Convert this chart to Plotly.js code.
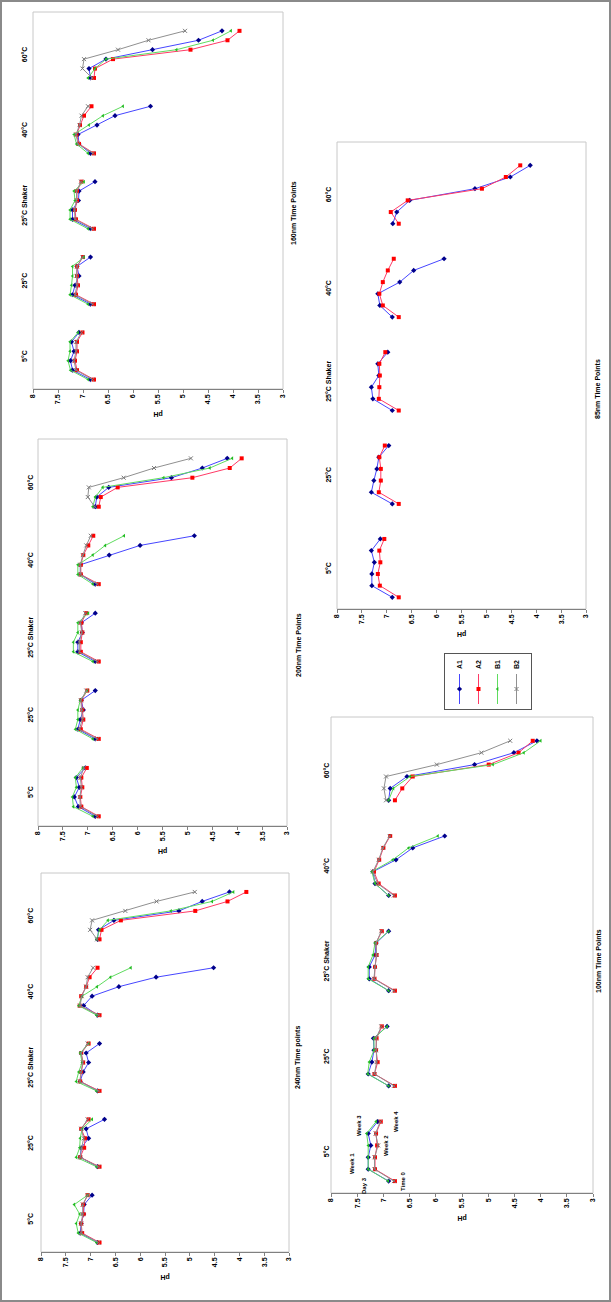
<!DOCTYPE html>
<html>
<head>
<meta charset="utf-8">
<script src="https://cdn.plot.ly/plotly-3.0.1.min.js"></script>
<style>
html,body{margin:0;padding:0;overflow:hidden;background:#fff;width:611px;height:1302px;}
#wrap{position:absolute;left:0;top:0;width:1302px;height:611px;transform-origin:0 0;transform:translate(0,1302px) rotate(-90deg);}
#chart{position:absolute;left:0;top:0;width:1302px;height:611px;}
#frame{position:absolute;left:0;top:0;width:1302px;height:611px;box-sizing:border-box;border:2px solid #8a8a8a;pointer-events:none;}
</style>
</head>
<body>
<div id="wrap"><div id="chart"></div><div id="frame"></div></div>
<script>
const groups = ['5°C', '25°C', '25°C Shaker', '40°C', '60°C'];
const timePoints = ['Time 0', 'Day 3', 'Week 1', 'Week 2', 'Week 3', 'Week 4'];
const pHTicks = [8, 7.5, 7, 6.5, 6, 5.5, 5, 4.5, 4, 3.5, 3];
const seriesNames = ['A1', 'A2', 'B1', 'B2'];

// values: 5 groups x 6 time points, in group order above
const nm240_A1 = [6.86,7.21,7.19,7.14,7.13,6.97, 6.86,7.21,7.19,7.04,7.09,6.72, 6.86,7.21,7.15,7.04,7.09,6.82, 6.86,7.14,6.97,6.43,5.68,4.52, 6.86,6.84,6.53,5.22,4.75,4.20];
const nm240_A2 = [6.82,7.17,7.19,7.14,7.15,7.06, 6.82,7.21,7.13,7.11,7.19,7.04, 6.82,7.21,7.19,7.15,7.19,7.04, 6.82,7.22,7.19,7.09,7.02,6.86, 6.82,6.78,6.39,4.89,4.24,3.86];
const nm240_B1 = [6.88,7.25,7.29,7.22,7.33,7.06, 6.88,7.29,7.22,7.21,7.17,6.97, 6.88,7.29,7.24,7.17,7.21,7.04, 6.88,7.24,7.17,6.87,6.60,6.19, 6.88,6.82,6.65,5.38,4.55,4.12];
const nm240_B2 = [6.84,7.19,7.19,7.16,7.16,7.06, 6.84,7.21,7.18,7.14,7.19,7.06, 6.84,7.22,7.19,7.16,7.19,7.06, 6.84,7.21,7.18,7.09,7.06,6.95, 6.87,7.01,6.97,6.30,5.67,4.90];

const nm200_A1 = [6.85,7.19,7.27,7.17,7.23,7.05, 6.85,7.20,7.15,7.09,7.13,6.85, 6.85,7.20,7.20,7.11,7.13,6.85, 6.85,7.15,7.15,6.57,5.95,4.86, 6.85,6.82,6.58,5.32,4.70,4.20];
const nm200_A2 = [6.78,7.13,7.15,7.11,7.13,7.02, 6.78,7.14,7.09,7.11,7.13,7.01, 6.78,7.14,7.14,7.11,7.13,7.03, 6.78,7.14,7.14,7.09,6.99,6.89, 6.78,6.74,6.40,4.90,4.15,3.91];
const nm200_B1 = [6.90,7.29,7.31,7.23,7.25,7.10, 6.90,7.25,7.20,7.20,7.15,7.01, 6.90,7.29,7.29,7.20,7.20,6.99, 6.90,7.20,7.20,6.90,6.65,6.27, 6.90,6.85,6.70,5.48,4.55,4.10];
const nm200_B2 = [6.81,7.15,7.16,7.13,7.15,7.08, 6.81,7.17,7.11,7.12,7.14,7.03, 6.81,7.17,7.17,7.12,7.15,7.05, 6.81,7.15,7.15,7.10,7.03,6.94, 6.86,7.00,6.98,6.28,5.67,4.93];

const nm160_A1 = [6.85,7.21,7.25,7.18,7.23,7.08, 6.85,7.21,7.16,7.08,7.12,6.85, 6.85,7.21,7.21,7.09,7.08,6.76, 6.85,7.08,7.10,6.72,6.36,5.65, 6.85,6.88,6.54,5.61,4.69,4.22];
const nm160_A2 = [6.78,7.12,7.16,7.12,7.12,7.01, 6.78,7.14,7.10,7.12,7.12,7.00, 6.78,7.14,7.16,7.12,7.12,7.03, 6.78,7.08,7.13,7.06,6.98,6.83, 6.78,6.76,6.40,4.85,4.11,3.87];
const nm160_B1 = [6.90,7.25,7.30,7.26,7.26,7.10, 6.90,7.26,7.23,7.21,7.21,6.98, 6.90,7.26,7.26,7.16,7.18,6.98, 6.90,7.13,7.18,6.88,6.60,6.20, 6.90,6.76,6.54,5.13,4.40,4.04];
const nm160_B2 = [6.81,7.14,7.18,7.14,7.14,7.03, 6.81,7.16,7.12,7.13,7.12,7.01, 6.81,7.16,7.17,7.13,7.13,7.04, 6.80,7.10,7.14,7.07,7.03,6.90, 6.82,7.01,6.98,6.30,5.69,4.96];

const nm100_A1 = [6.90,7.29,7.29,7.24,7.29,7.11, 6.90,7.29,7.22,7.18,7.19,6.93, 6.90,7.27,7.27,7.16,7.14,6.90, 6.90,7.16,7.20,6.76,6.44,5.83, 6.90,6.87,6.55,5.26,4.51,4.07];
const nm100_A2 = [6.78,7.16,7.16,7.12,7.14,7.05, 6.78,7.17,7.11,7.14,7.13,7.03, 6.78,7.17,7.16,7.13,7.14,7.03, 6.78,7.09,7.18,7.08,7.00,6.87, 6.78,6.64,6.44,4.99,4.42,4.15];
const nm100_B1 = [6.91,7.29,7.29,7.29,7.32,7.14, 6.90,7.30,7.27,7.18,7.18,6.93, 6.90,7.29,7.29,7.20,7.16,6.90, 6.90,7.16,7.22,6.82,6.52,5.96, 6.90,6.81,6.49,4.91,4.32,4.00];
const nm100_B2 = [6.80,7.17,7.17,7.10,7.15,7.06, 6.80,7.17,7.13,7.14,7.14,7.04, 6.80,7.18,7.16,7.13,7.14,7.04, 6.80,7.11,7.20,7.09,7.01,6.88, 6.95,6.99,6.95,5.98,5.13,4.58];

const nm85_A1 = [6.89,7.30,7.30,7.25,7.31,7.13, 6.89,7.31,7.26,7.20,7.16,6.96, 6.89,7.28,7.31,7.16,7.18,6.98, 6.89,7.14,7.18,6.74,6.46,5.85, 6.88,6.80,6.54,5.23,4.52,4.12];
const nm85_A2 = [6.76,7.14,7.18,7.13,7.15,7.05, 6.76,7.16,7.12,7.12,7.15,7.04, 6.76,7.16,7.15,7.14,7.15,7.03, 6.76,7.08,7.15,7.08,6.98,6.86, 6.76,6.92,6.58,5.09,4.61,4.32];

// ---------- layout / style ----------
const W = 1302, H = 611;
const FONT = 'Liberation Sans, Arial, sans-serif';
const style = {
  A1: {mc: '#00008b', lc: '#4646ff', symbol: 'diamond', size: 4},
  A2: {mc: '#ff0000', lc: '#ff3a66', symbol: 'square', size: 4},
  B1: {mc: '#22bb22', lc: '#5fdc5f', symbol: 'triangle-up', size: 3.5},
  B2: {mc: '#7a7a7a', lc: '#909090', symbol: 'x-thin-open', size: 4}
};
const panels = [
  {title: '240nm Time points', data: {A1: nm240_A1, A2: nm240_A2, B1: nm240_B1, B2: nm240_B2}, box: [50, 429, 41, 289], titleAt: [244, 298], catStand: 6},
  {title: '200nm Time Points', data: {A1: nm200_A1, A2: nm200_A2, B1: nm200_B1, B2: nm200_B2}, box: [476, 863, 38, 287], titleAt: [657, 298], catStand: 3},
  {title: '160nm Time Points', data: {A1: nm160_A1, A2: nm160_A2, B1: nm160_B1, B2: nm160_B2}, box: [913, 1290, 33, 283], titleAt: [1089, 293], catStand: 4},
  {title: '100nm Time Points', data: {A1: nm100_A1, A2: nm100_A2, B1: nm100_B1, B2: nm100_B2}, box: [109, 585, 331, 593], titleAt: [341, 598], catStand: 0,
   pointLabels: [[0, 6.63], [-0.33, 7.37], [1.52, 7.6], [2.95, 6.95], [4.71, 7.47], [4.97, 6.76]]},
  {title: '85nm Time Points', data: {A1: nm85_A1, A2: nm85_A2}, box: [693, 1160, 337, 586], titleAt: [913, 597], catStand: 4}
];

const SLOTS_PER_GROUP = 8;
function slotX() {
  const xs = [];
  groups.forEach((g, gi) => {
    timePoints.forEach((t, ti) => xs.push(gi * SLOTS_PER_GROUP + ti));
    xs.push(null);
  });
  return xs;
}
function withGaps(vals) {
  const ys = [];
  groups.forEach((g, gi) => {
    for (let ti = 0; ti < timePoints.length; ti++) ys.push(vals[gi * timePoints.length + ti]);
    ys.push(null);
  });
  return ys;
}

const traces = [];
const layout = {
  width: W, height: H,
  margin: {l: 0, r: 0, t: 0, b: 0},
  paper_bgcolor: '#ffffff', plot_bgcolor: '#ffffff',
  font: {family: FONT, size: 7, color: '#000'},
  showlegend: true,
  legend: {
    x: 592 / W, y: 1 - 444 / H, xanchor: 'left', yanchor: 'top',
    bgcolor: '#ffffff', bordercolor: '#555555', borderwidth: 1,
    font: {family: FONT, size: 7, weight: 'bold', color: '#000'},
    tracegroupgap: 0, itemwidth: 30
  },
  shapes: [], annotations: []
};

const catVals = groups.map((g, gi) => gi * SLOTS_PER_GROUP + (timePoints.length - 1) / 2);

panels.forEach((p, i) => {
  const n = i + 1;
  const xa = 'xaxis' + (n === 1 ? '' : n), ya = 'yaxis' + (n === 1 ? '' : n);
  const xr = 'x' + (n === 1 ? '' : n), yr = 'y' + (n === 1 ? '' : n);
  const [x0, x1, y0, y1] = p.box;
  layout[xa] = {
    domain: [x0 / W, x1 / W], anchor: yr, range: [-1, 39], side: 'top',
    tickvals: catVals, ticktext: groups, ticks: '', showgrid: false, zeroline: false,
    showline: false, ticklabelstandoff: p.catStand, automargin: false, fixedrange: true,
    tickfont: {family: FONT, size: 7, weight: 'bold', color: '#000'}
  };
  layout[ya] = {
    domain: [1 - y1 / H, 1 - y0 / H], anchor: xr, range: [3, 8], autorange: false,
    tickvals: pHTicks, ticks: 'outside', ticklen: 3, tickcolor: '#808080', tickwidth: 1,
    showline: true, linecolor: '#808080', linewidth: 1, showgrid: false, zeroline: false,
    automargin: false, fixedrange: true,
    tickfont: {family: FONT, size: 7, weight: 'bold', color: '#000'},
    title: {text: 'pH', standoff: 6, font: {family: FONT, size: 7, weight: 'bold', color: '#000'}}
  };
  layout.shapes.push({
    type: 'rect', xref: xr + ' domain', yref: yr + ' domain', x0: 0, x1: 1, y0: 0, y1: 1,
    line: {color: '#c8c8c8', width: 1}, fillcolor: 'rgba(0,0,0,0)', layer: 'below'
  });
  layout.annotations.push({
    text: p.title, xref: 'paper', yref: 'paper', x: p.titleAt[0] / W, y: 1 - p.titleAt[1] / H,
    xanchor: 'center', yanchor: 'middle', showarrow: false,
    font: {family: FONT, size: 7, weight: 'bold', color: '#000'}
  });
  if (p.pointLabels) {
    p.pointLabels.forEach((pos, k) => layout.annotations.push({
      text: timePoints[k], xref: xr, yref: yr, x: pos[0], y: pos[1],
      xanchor: 'center', yanchor: 'middle', showarrow: false,
      font: {family: FONT, size: 6, weight: 'bold', color: '#000'}
    }));
  }
  seriesNames.forEach(s => {
    if (!p.data[s]) return;
    const st = style[s];
    traces.push({
      type: 'scatter', mode: 'lines+markers', name: s, legendgroup: s,
      showlegend: i === 0, xaxis: xr, yaxis: yr,
      x: slotX(), y: withGaps(p.data[s]), connectgaps: false,
      line: {color: st.lc, width: 1},
      marker: {symbol: st.symbol, size: st.size, color: st.mc, line: {color: st.mc, width: s === 'B2' ? 1 : 0}},
      cliponaxis: false
    });
  });
});

Plotly.newPlot('chart', traces, layout, {displayModeBar: false, staticPlot: true});
</script>
</body>
</html>
